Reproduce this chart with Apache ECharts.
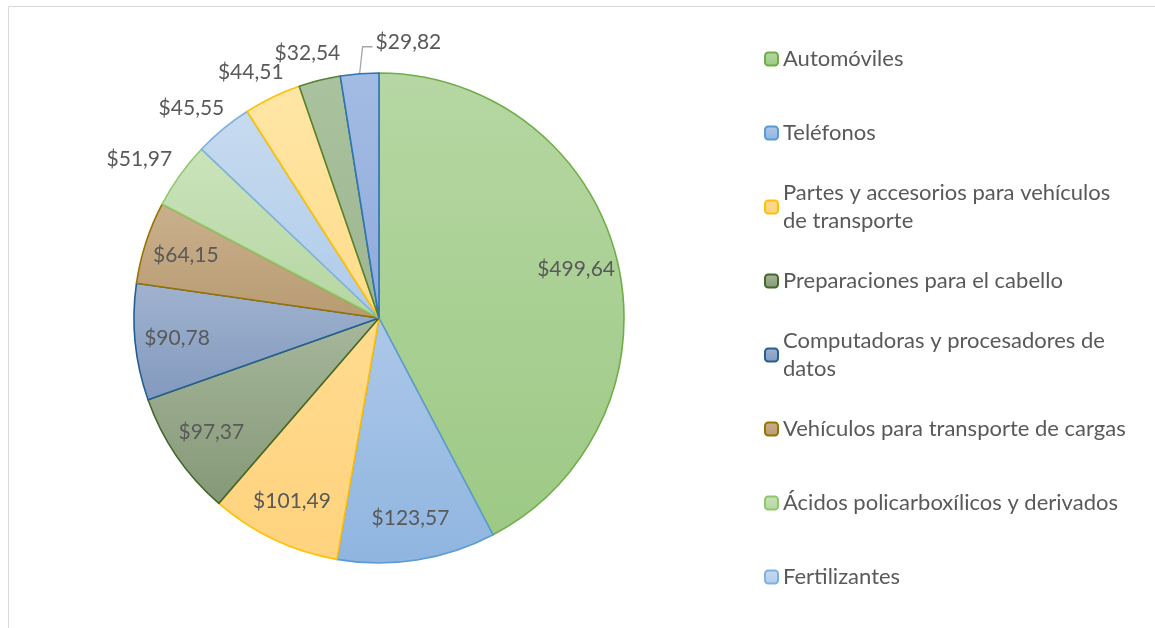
<!DOCTYPE html>
<html>
<head>
<meta charset="utf-8">
<script src="https://cdn.jsdelivr.net/npm/echarts@6/dist/echarts.min.js"></script>
<style>
  html, body { margin: 0; padding: 0; background: #fff; }
  #main { width: 1155px; height: 628px; }
</style>
</head>
<body>
<div id="main"></div>
<script>
  // datos del gráfico
  const categories = [
    'Automóviles',
    'Teléfonos',
    'Partes y accesorios para vehículos de transporte',
    'Preparaciones para el cabello',
    'Computadoras y procesadores de datos',
    'Vehículos para transporte de cargas',
    'Ácidos policarboxílicos y derivados',
    'Fertilizantes',
    'Otros 9',
    'Otros 10',
    'Otros 11'
  ]
  const values = [499.64, 123.57, 101.49, 97.37, 90.78, 64.15, 51.97, 45.55, 44.51, 32.54, 29.82]
  // texto de la leyenda (solo se ven las 8 primeras)
  const legendLabels = [
    'Automóviles',
    'Teléfonos',
    'Partes y accesorios para vehículos\nde transporte',
    'Preparaciones para el cabello',
    'Computadoras y procesadores de\ndatos',
    'Vehículos para transporte de cargas',
    'Ácidos policarboxílicos y derivados',
    'Fertilizantes'
  ]
  const insideCount = 6
  const lastIndex = values.length - 1

  // colores estilo Excel
  const fillTop = ['#b6d7a3', '#adc8e8', '#ffdb90', '#a6b79b', '#a0b2cf', '#c9b08d', '#cbe3bc', '#c7dbef', '#ffe6a6', '#abc29e', '#a3bce3']
  const fillBottom = ['#9dc985', '#8fb5e0', '#ffd37e', '#859877', '#8299be', '#b89b72', '#b5d6a1', '#afcbea', '#ffdc8a', '#9db590', '#8fabdc']
  const borderColors = ['#70ad47', '#5b9bd5', '#ffc000', '#43682b', '#255e91', '#997300', '#8fc86a', '#7fb1e0', '#ffc000', '#548235', '#2e75b6']

  const fmt = v => '$' + v.toFixed(2).replace('.', ',')
  const labelFont = {fontFamily: 'Lato', fontSize: 21, color: '#595959'}

  let chart = echarts.init(document.getElementById('main'))

  const mainData = values.map((v, i) => ({
    name: categories[i],
    value: v,
    itemStyle: {
      color: {
        type: 'linear', x: 0, y: 0, x2: 0, y2: 1,
        colorStops: [{offset: 0, color: fillTop[i]}, {offset: 1, color: fillBottom[i]}]
      },
      borderColor: borderColors[i],
      borderWidth: 1.6
    },
    label: {show: i >= insideCount},
    labelLine: {
      show: i >= insideCount,
      lineStyle: {color: i === lastIndex ? '#a6a6a6' : 'rgba(0,0,0,0)'}
    }
  }))

  // etiquetas interiores en un anillo transparente
  const innerLabelData = values.map((v, i) => ({name: categories[i], value: v, label: {show: i < insideCount}}))

  chart.setOption({
    animation: false,
    graphic: [{
      type: 'rect',
      shape: {x: 8.5, y: 6.5, width: 1300, height: 800},
      style: {fill: 'none', stroke: '#d9d9d9', lineWidth: 1},
      silent: true
    }],
    legend: {
      orient: 'vertical',
      left: 764,
      top: 17,
      padding: 0,
      itemWidth: 13,
      itemHeight: 13,
      itemGap: -10,
      selectedMode: false,
      data: legendLabels.map((t, i) => ({
        name: categories[i],
        textStyle: {padding: t.indexOf('\n') >= 0 ? [28, 0, 0, 0] : [28, 0, 28, 0]}
      })),
      formatter: name => legendLabels[categories.indexOf(name)],
      textStyle: {
        fontFamily: 'Lato',
        fontSize: 22,
        lineHeight: 28,
        color: '#595959'
      }
    },
    series: [
      {
        name: 'Importaciones',
        type: 'pie',
        center: [379, 318],
        radius: 245,
        startAngle: 90,
        clockwise: true,
        avoidLabelOverlap: false,
        emphasis: {disabled: true},
        label: Object.assign({position: 'outside', formatter: p => fmt(p.value)}, labelFont),
        labelLine: {
          length: 17,
          length2: 0,
          lineStyle: {width: 1.3}
        },
        // etiquetas exteriores por fuera del borde (como Excel); la última se desplaza a la derecha
        labelLayout: p => {
          if (!p.labelLinePoints) return {}
          const a = p.labelLinePoints[0]
          const b = p.labelLinePoints[1]
          if (p.dataIndex !== lastIndex) {
            const len = Math.hypot(b[0] - a[0], b[1] - a[1]) || 1
            const dx = (b[0] - a[0]) / len
            const dy = (b[1] - a[1]) / len
            return {
              x: b[0] + dx * p.labelRect.width / 2,
              y: b[1] + dy * p.labelRect.height / 2,
              align: 'center',
              verticalAlign: 'middle'
            }
          }
          return {
            x: a[0] + 16,
            y: a[1] - 32,
            align: 'left',
            verticalAlign: 'middle',
            labelLinePoints: [a, [a[0] + 3, a[1] - 27], [a[0] + 13, a[1] - 27]]
          }
        },
        data: mainData
      },
      {
        type: 'pie',
        center: [379, 318],
        radius: [155, 245],
        startAngle: 90,
        clockwise: true,
        silent: true,
        avoidLabelOverlap: false,
        emphasis: {disabled: true},
        itemStyle: {color: 'rgba(0,0,0,0)', borderWidth: 0},
        label: Object.assign({position: 'inside', formatter: p => fmt(p.value)}, labelFont),
        labelLine: {show: false},
        data: innerLabelData
      }
    ]
  })
</script>
</body>
</html>
